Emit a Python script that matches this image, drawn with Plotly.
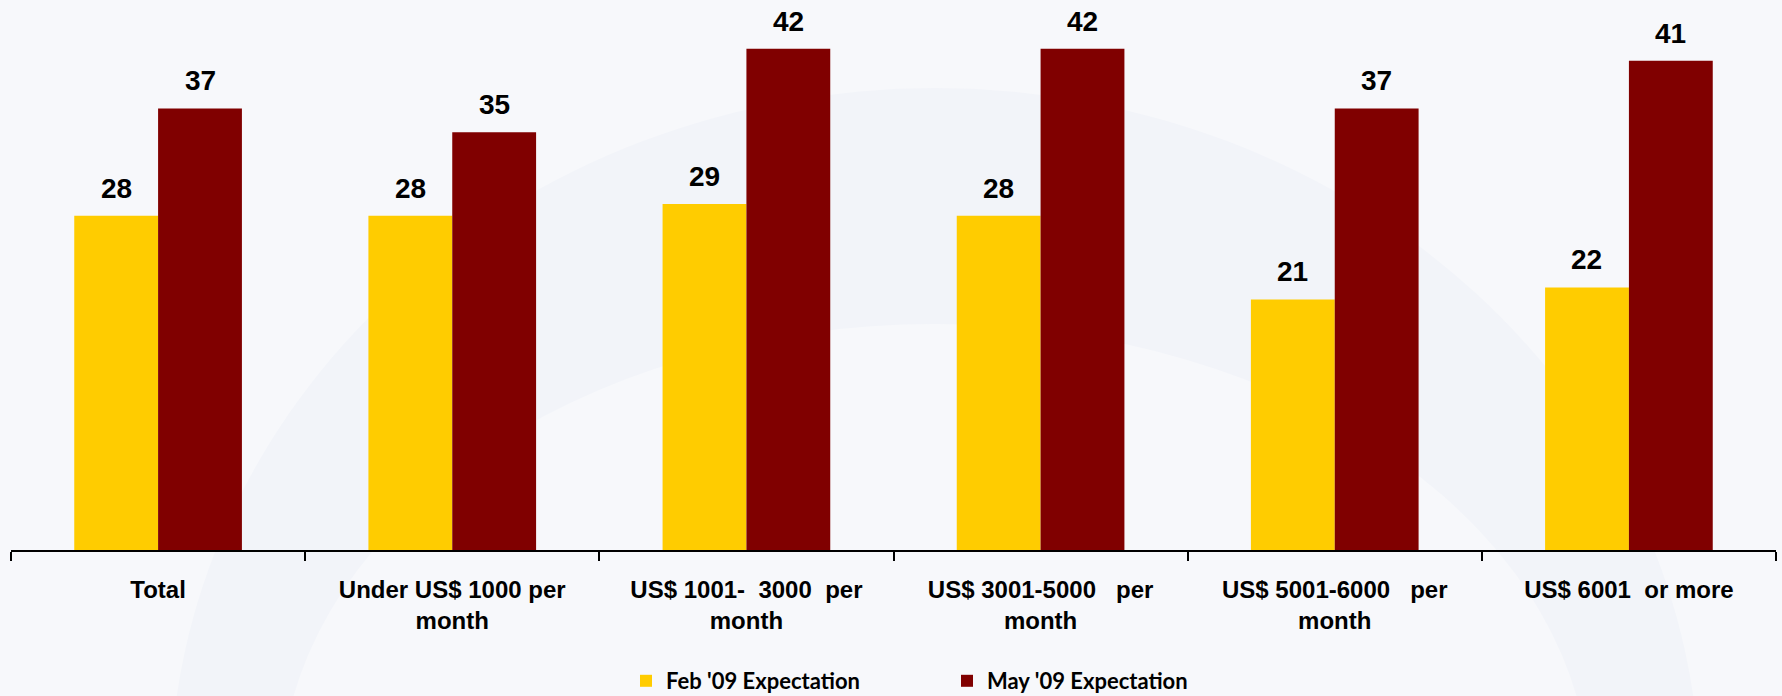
import plotly.graph_objects as go

categories = [
    "Total",
    "Under US$ 1000 per<br>month",
    "US$ 1001-\u00a0 3000\u00a0 per<br>month",
    "US$ 3001-5000\u00a0\u00a0 per<br>month",
    "US$ 5001-6000\u00a0\u00a0 per<br>month",
    "US$ 6001\u00a0 or more",
]
feb_values = [28, 28, 29, 28, 21, 22]
may_values = [37, 35, 42, 42, 37, 41]
series_names = ["Feb '09 Expectation", "May '09 Expectation"]
series_colors = ["#FFCC00", "#800000"]

W, H = 1782, 696
M_L, M_R, M_T, M_B = 11, 6, 13, 146
PLOT_W = W - M_L - M_R
PLOT_H = H - M_T - M_B


def px_x(px):
    """Pixel column -> paper x."""
    return (px - M_L) / PLOT_W


def px_y(py):
    """Pixel row (from top) -> paper y."""
    return (H - M_B - py) / PLOT_H


fig = go.Figure()
for name, vals, col in zip(series_names, [feb_values, may_values], series_colors):
    fig.add_trace(go.Bar(
        x=categories, y=vals, name=name, marker=dict(color=col, line=dict(width=0)),
    ))

# value labels above each bar
half_bar_px = 42
for vals, shift in [(feb_values, -half_bar_px), (may_values, half_bar_px)]:
    for c, v in zip(categories, vals):
        fig.add_annotation(
            x=c, y=v, text=str(v), showarrow=False, xshift=shift, yshift=10,
            yanchor="bottom",
            font=dict(family="Liberation Sans, Arial", size=28, color="#000000", weight="bold"),
        )

# faint ring watermark in the slide background
fig.add_shape(type="circle", xref="paper", yref="paper", layer="below",
              x0=px_x(170), x1=px_x(1700), y0=px_y(1490), y1=px_y(88),
              fillcolor="#f2f4f9", line=dict(width=0))
fig.add_shape(type="circle", xref="paper", yref="paper", layer="below",
              x0=px_x(280), x1=px_x(1590), y0=px_y(1256), y1=px_y(324),
              fillcolor="#f7f8fb", line=dict(width=0))

fig.update_layout(
    width=W, height=H,
    margin=dict(l=M_L, r=M_R, t=M_T, b=M_B, autoexpand=False),
    paper_bgcolor="#f7f8fb",
    plot_bgcolor="rgba(0,0,0,0)",
    barmode="group",
    bargap=0.43,
    bargroupgap=0,
    showlegend=True,
    legend=dict(
        orientation="h", x=px_x(626), xanchor="left", y=px_y(681), yanchor="middle",
        font=dict(family="Lato, Open Sans", size=22, color="#000000", weight="bold"),
        bgcolor="rgba(0,0,0,0)", entrywidth=276, entrywidthmode="pixels",
        itemsizing="constant",
    ),
    xaxis=dict(
        showline=True, linecolor="#000000", linewidth=2, automargin=False,
        ticks="outside", tickson="boundaries", ticklen=9, tickwidth=2, tickcolor="#000000",
        tickfont=dict(family="Liberation Sans, Arial", size=24, color="#000000", weight="bold"),
        ticklabelstandoff=17, showgrid=False, range=[-0.5, 5.5],
    ),
    yaxis=dict(range=[0, 45], visible=False, showgrid=False, zeroline=False),
    font=dict(family="Liberation Sans, Arial"),
)

fig.write_html("out.html")
